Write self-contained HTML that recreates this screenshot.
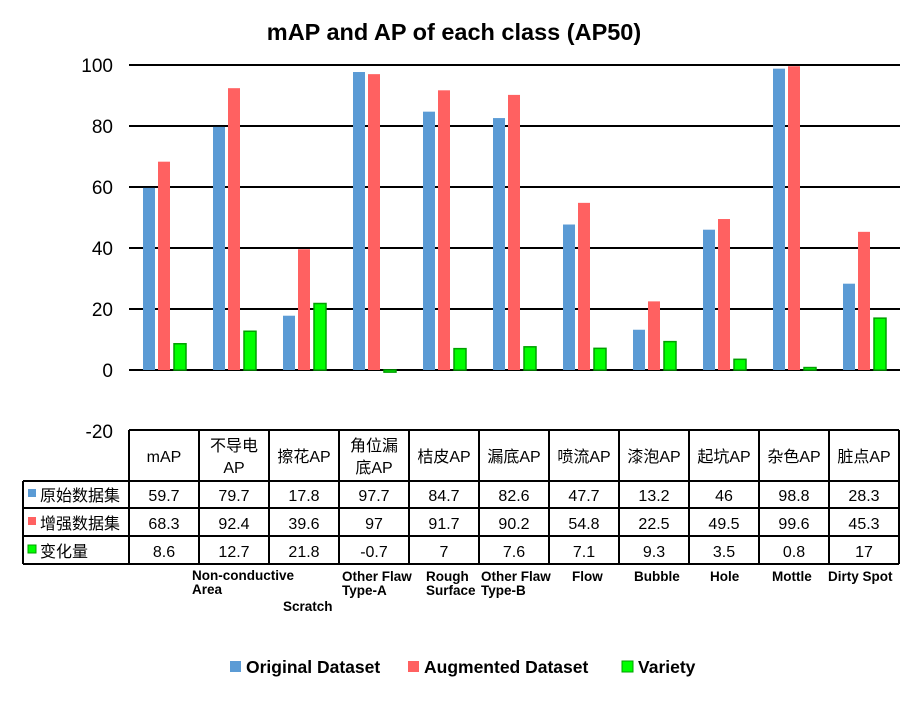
<!DOCTYPE html>
<html><head><meta charset="utf-8"><style>
body{margin:0;background:#fff;}
svg text{font-family:"Liberation Sans","Noto Sans CJK SC",sans-serif;}
</style></head><body>
<svg width="918" height="697" xmlns="http://www.w3.org/2000/svg">
<text x="454" y="40" text-anchor="middle" font-size="23.5" font-weight="bold">mAP and AP of each class (AP50)</text>
<g id="grid"></g><g id="bars"></g><g id="table"></g><g id="en"></g>
<g>
<rect x="230" y="661" width="11" height="11" fill="#5b9bd5"/><text x="246" y="673" font-size="17.5" font-weight="bold">Original Dataset</text>
<rect x="408" y="661" width="11" height="11" fill="#ff6161"/><text x="424" y="673" font-size="17.5" font-weight="bold">Augmented Dataset</text>
<rect x="622" y="661" width="11" height="11" fill="#00ff00" stroke="#00a000"/><text x="638" y="673" font-size="17.5" font-weight="bold">Variety</text>
</g>
</svg>
<script>
const categories=["mAP","不导电|AP","擦花AP","角位漏|底AP","桔皮AP","漏底AP","喷流AP","漆泡AP","起坑AP","杂色AP","脏点AP"];
const original=[59.7,79.7,17.8,97.7,84.7,82.6,47.7,13.2,46,98.8,28.3];
const augmented=[68.3,92.4,39.6,97,91.7,90.2,54.8,22.5,49.5,99.6,45.3];
const variety=[8.6,12.7,21.8,-0.7,7,7.6,7.1,9.3,3.5,0.8,17];
const yTicks=[100,80,60,40,20,0,-20];
const enLabels=[["",0,0],["Non-conductive|Area",192,580],["Scratch",283,611],["Other Flaw|Type-A",342,581],["Rough|Surface",426,581],["Other Flaw|Type-B",481,581],["Flow",572,581],["Bubble",634,581],["Hole",710,581],["Mottle",772,581],["Dirty Spot",828,581]];
const NS="http://www.w3.org/2000/svg";
const y=v=>370-v*3.05, x0=129, cw=70;
function mk(p,t,a){const e=document.createElementNS(NS,t);for(const k in a)e.setAttribute(k,a[k]);p.appendChild(e);return e;}
const g=document.getElementById('grid'),b=document.getElementById('bars'),tb=document.getElementById('table'),en=document.getElementById('en');
yTicks.forEach(v=>{
 if(v>=0){const l=mk(g,'line',{x1:x0,x2:900,y1:y(v),y2:y(v),stroke:'#000','stroke-width':2});
 }
 const t=mk(g,'text',{x:113,y:y(v)+7,'text-anchor':'end','font-size':19});t.textContent=v;
 
});
categories.forEach((c,i)=>{
 const cx=x0+i*cw;
 const r1=mk(b,'rect',{x:cx+14,y:Math.min(y(original[i]),370),width:12,height:Math.abs(original[i])*3.05,fill:'#5b9bd5'});
 
 const r2=mk(b,'rect',{x:cx+29,y:Math.min(y(augmented[i]),370),width:12,height:Math.abs(augmented[i])*3.05,fill:'#ff6161'});
 
 const r3=mk(b,'rect',{x:cx+45,y:Math.min(y(variety[i]),370),width:12,height:Math.max(Math.abs(variety[i])*3.05,1),fill:'#00ff00',stroke:'#00a000','stroke-width':1.5});
 
 const parts=c.split('|');
 parts.forEach((p,j)=>{const t=mk(tb,'text',{x:cx+35,y:parts.length>1?451+j*22:462,'text-anchor':'middle','font-size':16});t.textContent=p;
 });
 [original,augmented,variety].forEach((arr,k)=>{const t=mk(tb,'text',{x:cx+35,y:501+k*28,'text-anchor':'middle','font-size':16});t.textContent=arr[i];
 });
 const L=enLabels[i];if(L[0]){L[0].split('|').forEach((p,j)=>{const t=mk(en,'text',{x:L[1],y:L[2]+j*14,'font-size':13.5,'font-weight':'bold'});t.textContent=p;
 });}
});
const ln=(a,b2,c,d)=>{const l=mk(tb,'line',{x1:a,y1:b2,x2:c,y2:d,stroke:'#000','stroke-width':2});};
ln(x0,430,899,430);ln(23,481,899,481);ln(23,508,899,508);ln(23,536,899,536);ln(23,564,899,564);
ln(23,481,23,564);
for(let i=0;i<=11;i++)ln(x0+i*cw,430,x0+i*cw,564);
const rows=[["原始数据集","#5b9bd5"],["增强数据集","#ff6161"],["变化量","#00ff00"]];
rows.forEach((r,k)=>{mk(tb,'rect',{x:28,y:489+k*28,width:8,height:8,fill:r[1],stroke:k==2?'#00a000':'none'});
 const t=mk(tb,'text',{x:40,y:501+k*28,'font-size':16});t.textContent=r[0];
 });
</script>
</body></html>
